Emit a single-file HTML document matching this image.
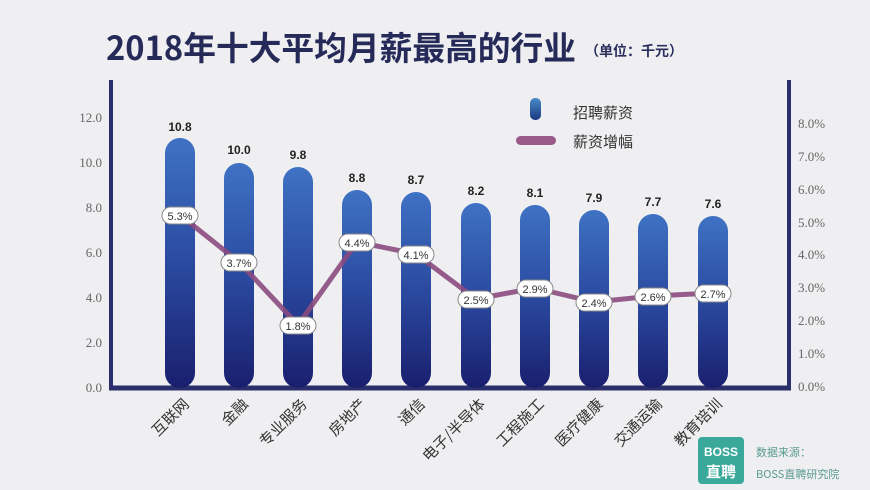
<!DOCTYPE html>
<html><head><meta charset="utf-8"><style>
html,body{margin:0;padding:0;background:#efeff1;}
svg{display:block;font-family:"Liberation Sans","Noto Sans CJK SC",sans-serif;}
</style></head><body>
<svg width="870" height="490" viewBox="0 0 870 490">
<defs>
<linearGradient id="bg" x1="0" y1="0" x2="0" y2="1">
<stop offset="0" stop-color="#3f72c4"/><stop offset="0.5" stop-color="#2a4aa0"/><stop offset="1" stop-color="#1a1f6e"/>
</linearGradient>
<linearGradient id="lg" x1="0" y1="0" x2="0" y2="1">
<stop offset="0" stop-color="#4a8ac8"/><stop offset="1" stop-color="#1a3a80"/>
</linearGradient>
</defs>
<rect width="870" height="490" fill="#efeff1"/>
<text x="106" y="60" font-size="33" font-weight="bold" fill="#262a58" font-family="'Noto Sans CJK SC',sans-serif" textLength="470" lengthAdjust="spacingAndGlyphs">2018年十大平均月薪最高的行业</text>
<text x="585" y="56" font-size="14" font-weight="bold" fill="#2a2e5c" font-family="'Noto Sans CJK SC',sans-serif">（单位：千元）</text>
<!-- axes -->
<line x1="111" y1="80" x2="111" y2="390" stroke="#2a2e6a" stroke-width="4"/>
<line x1="789" y1="80" x2="789" y2="390" stroke="#2a2e6a" stroke-width="4"/>
<line x1="109" y1="388" x2="791" y2="388" stroke="#2a2e6a" stroke-width="5"/>
<g font-size="13" fill="#666" text-anchor="end" font-family="'Liberation Serif',serif">
<text x="102" y="122">12.0</text><text x="102" y="167">10.0</text><text x="102" y="212">8.0</text><text x="102" y="257">6.0</text><text x="102" y="302">4.0</text><text x="102" y="347">2.0</text><text x="102" y="392">0.0</text>
</g>
<g font-size="13" fill="#666" font-family="'Liberation Serif',serif">
<text x="798" y="128">8.0%</text><text x="798" y="161">7.0%</text><text x="798" y="194">6.0%</text><text x="798" y="227">5.0%</text><text x="798" y="259">4.0%</text><text x="798" y="292">3.0%</text><text x="798" y="325">2.0%</text><text x="798" y="358">1.0%</text><text x="798" y="391">0.0%</text>
</g>
<!-- bars -->
<g fill="url(#bg)">
<rect x="165" y="138" width="30" height="250" rx="15"/>
<rect x="224" y="163" width="30" height="225" rx="15"/>
<rect x="283" y="167" width="30" height="221" rx="15"/>
<rect x="342" y="190" width="30" height="198" rx="15"/>
<rect x="401" y="192" width="30" height="196" rx="15"/>
<rect x="461" y="203" width="30" height="185" rx="15"/>
<rect x="520" y="205" width="30" height="183" rx="15"/>
<rect x="579" y="210" width="30" height="178" rx="15"/>
<rect x="638" y="214" width="30" height="174" rx="15"/>
<rect x="698" y="216" width="30" height="172" rx="15"/>
</g>
<g font-size="12" font-weight="bold" fill="#222" text-anchor="middle">
<text x="180" y="131">10.8</text><text x="239" y="154">10.0</text><text x="298" y="159">9.8</text><text x="357" y="182">8.8</text><text x="416" y="184">8.7</text><text x="476" y="195">8.2</text><text x="535" y="197">8.1</text><text x="594" y="202">7.9</text><text x="653" y="206">7.7</text><text x="713" y="208">7.6</text>
</g>
<!-- line -->
<polyline points="180,215 239,262 298,325 357,242 416,254 476,299 535,288 594,302 653,296 713,293" fill="none" stroke="#8a4a80" stroke-width="5" stroke-linejoin="round" opacity="0.9"/>
<g font-size="11" fill="#333" text-anchor="middle">
<g><rect x="162" y="207" width="36" height="17" rx="8.5" fill="#fff" stroke="#888"/><text x="180" y="220">5.3%</text></g>
<g><rect x="221" y="254" width="36" height="17" rx="8.5" fill="#fff" stroke="#888"/><text x="239" y="267">3.7%</text></g>
<g><rect x="280" y="317" width="36" height="17" rx="8.5" fill="#fff" stroke="#888"/><text x="298" y="330">1.8%</text></g>
<g><rect x="339" y="234" width="36" height="17" rx="8.5" fill="#fff" stroke="#888"/><text x="357" y="247">4.4%</text></g>
<g><rect x="398" y="246" width="36" height="17" rx="8.5" fill="#fff" stroke="#888"/><text x="416" y="259">4.1%</text></g>
<g><rect x="458" y="291" width="36" height="17" rx="8.5" fill="#fff" stroke="#888"/><text x="476" y="304">2.5%</text></g>
<g><rect x="517" y="280" width="36" height="17" rx="8.5" fill="#fff" stroke="#888"/><text x="535" y="293">2.9%</text></g>
<g><rect x="576" y="294" width="36" height="17" rx="8.5" fill="#fff" stroke="#888"/><text x="594" y="307">2.4%</text></g>
<g><rect x="635" y="288" width="36" height="17" rx="8.5" fill="#fff" stroke="#888"/><text x="653" y="301">2.6%</text></g>
<g><rect x="695" y="285" width="36" height="17" rx="8.5" fill="#fff" stroke="#888"/><text x="713" y="298">2.7%</text></g>
</g>
<!-- legend -->
<rect x="530" y="98" width="11" height="22" rx="5" fill="url(#lg)"/>
<text x="573" y="118" font-size="15" fill="#333" font-family="'Noto Sans CJK SC',sans-serif">招聘薪资</text>
<rect x="516" y="136" width="40" height="9" rx="4.5" fill="#9a5a8a"/>
<text x="573" y="147" font-size="15" fill="#333" font-family="'Noto Sans CJK SC',sans-serif">薪资增幅</text>
<!-- x labels -->
<g font-size="15" fill="#333" text-anchor="end" font-family="'Noto Sans CJK SC',sans-serif">
<text transform="translate(190,405) rotate(-45)">互联网</text>
<text transform="translate(249,405) rotate(-45)">金融</text>
<text transform="translate(308,405) rotate(-45)">专业服务</text>
<text transform="translate(367,405) rotate(-45)">房地产</text>
<text transform="translate(426,405) rotate(-45)">通信</text>
<text transform="translate(486,405) rotate(-45)">电子/半导体</text>
<text transform="translate(545,405) rotate(-45)">工程施工</text>
<text transform="translate(604,405) rotate(-45)">医疗健康</text>
<text transform="translate(663,405) rotate(-45)">交通运输</text>
<text transform="translate(723,405) rotate(-45)">教育培训</text>
</g>
<!-- logo -->
<rect x="698" y="437" width="46" height="47" rx="4" fill="#3aa89a"/>
<text x="721" y="456" font-size="12" fill="#fff" text-anchor="middle" font-weight="bold">BOSS</text>
<text x="721" y="477" font-size="15" fill="#fff" text-anchor="middle" font-family="'Noto Sans CJK SC',sans-serif" font-weight="bold">直聘</text>
<text x="756" y="456" font-size="11" fill="#5a9a92" font-family="'Noto Sans CJK SC',sans-serif">数据来源：</text>
<text x="756" y="478" font-size="11" fill="#5a9a92" font-family="'Noto Sans CJK SC',sans-serif">BOSS直聘研究院</text>
</svg>
</body></html>
